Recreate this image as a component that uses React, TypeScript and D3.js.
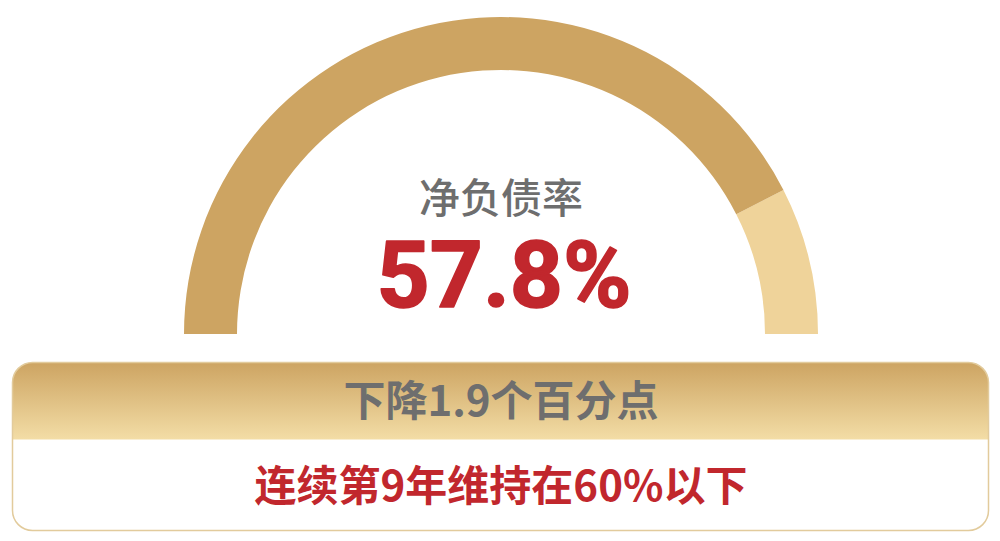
import React, { useRef, useEffect } from "react";
import * as d3 from "d3";

// gauge data
const gaugeLabel = "净负债率";
const gaugeValue = 57.8;
const gaugeMax = 68;
const valueText = "57.8%";

// banner texts
const changeText = "下降1.9个百分点";
const noteText = "连续第9年维持在60%以下";

const width = 1000;
const height = 541;

const colors = {
  filled: "#CDA462",
  rest: "#EFD39A",
  gray: "#6E6E6E",
  red: "#C1272D",
  border: "#E2CB9C",
};

const App = () => {
  const ref = useRef<SVGSVGElement | null>(null);

  useEffect(() => {
    document.body.style.margin = "0";
    const svg = d3.select(ref.current);
    svg.selectAll("*").remove();

    const cx = 501;
    const cy = 334;
    const outerR = 317;
    const innerR = 264;

    const angle = d3
      .scaleLinear()
      .domain([0, gaugeMax])
      .range([-Math.PI / 2, Math.PI / 2]);

    const arc = d3.arc<any>().innerRadius(innerR).outerRadius(outerR);

    const g = svg.append("g").attr("transform", `translate(${cx},${cy})`);

    g.append("path")
      .attr("d", arc({ startAngle: angle(gaugeValue), endAngle: angle(gaugeMax) }))
      .attr("fill", colors.rest);

    g.append("path")
      .attr("d", arc({ startAngle: angle(0), endAngle: angle(gaugeValue) }))
      .attr("fill", colors.filled);

    g.append("text")
      .attr("x", 0)
      .attr("y", -121)
      .attr("text-anchor", "middle")
      .attr("font-family", "'Noto Sans CJK SC', sans-serif")
      .attr("font-size", 41)
      .attr("font-weight", 500)
      .attr("fill", colors.gray)
      .text(gaugeLabel);

    // big value, stroked a little to get the heavier DIN look
    g.append("text")
      .attr("x", 3)
      .attr("y", -27)
      .attr("text-anchor", "middle")
      .attr("font-family", "Roboto, sans-serif")
      .attr("font-size", 92)
      .attr("font-weight", 700)
      .attr("textLength", 255)
      .attr("lengthAdjust", "spacingAndGlyphs")
      .attr("fill", colors.red)
      .attr("stroke", colors.red)
      .attr("stroke-width", 1.6)
      .attr("stroke-linejoin", "round")
      .text(valueText);

    // banner box
    const box = { x: 12.5, y: 362.5, w: 976, h: 168, r: 20, header: 77 };
    const defs = svg.append("defs");
    const grad = defs
      .append("linearGradient")
      .attr("id", "hdr")
      .attr("x1", 0)
      .attr("y1", 0)
      .attr("x2", 0)
      .attr("y2", 1);
    grad.append("stop").attr("offset", "0%").attr("stop-color", "#CDA462");
    grad.append("stop").attr("offset", "100%").attr("stop-color", "#F3DDA6");

    defs
      .append("clipPath")
      .attr("id", "boxclip")
      .append("rect")
      .attr("x", box.x)
      .attr("y", box.y)
      .attr("width", box.w)
      .attr("height", box.h)
      .attr("rx", box.r);

    svg
      .append("rect")
      .attr("x", box.x)
      .attr("y", box.y)
      .attr("width", box.w)
      .attr("height", box.h)
      .attr("rx", box.r)
      .attr("fill", "#fff");

    svg
      .append("rect")
      .attr("clip-path", "url(#boxclip)")
      .attr("x", box.x)
      .attr("y", box.y)
      .attr("width", box.w)
      .attr("height", box.header)
      .attr("fill", "url(#hdr)");

    svg
      .append("rect")
      .attr("x", box.x)
      .attr("y", box.y)
      .attr("width", box.w)
      .attr("height", box.h)
      .attr("rx", box.r)
      .attr("fill", "none")
      .attr("stroke", colors.border)
      .attr("stroke-width", 1.5);

    svg
      .append("text")
      .attr("x", 501)
      .attr("y", 416)
      .attr("text-anchor", "middle")
      .attr("font-family", "'Noto Sans CJK SC', sans-serif")
      .attr("font-size", 42)
      .attr("font-weight", 700)
      .attr("fill", colors.gray)
      .text(changeText);

    svg
      .append("text")
      .attr("x", 501)
      .attr("y", 501)
      .attr("text-anchor", "middle")
      .attr("font-family", "'Noto Sans CJK SC', sans-serif")
      .attr("font-size", 42)
      .attr("font-weight", 700)
      .attr("fill", colors.red)
      .text(noteText);
  }, []);

  return (
    <svg
      ref={ref}
      width={width}
      height={height}
      style={{ display: "block", background: "#fff" }}
    ></svg>
  );
};

export default App;
